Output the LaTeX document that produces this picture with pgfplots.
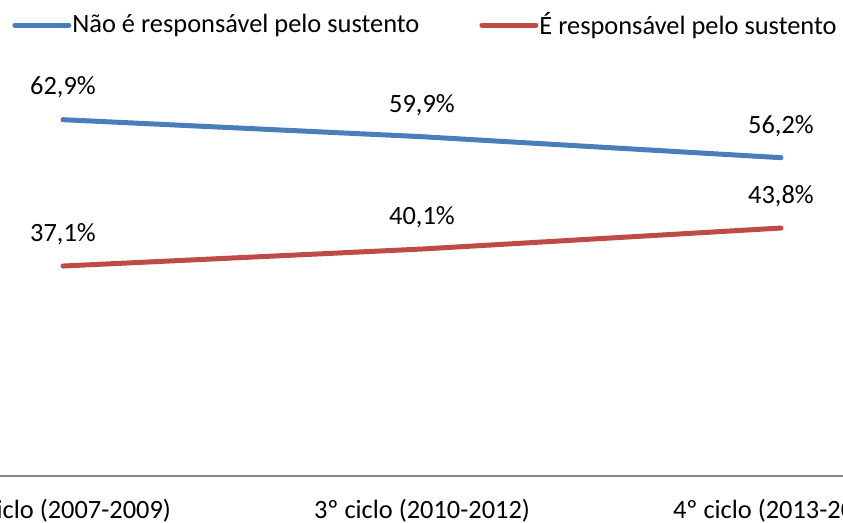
\documentclass[border=0pt]{standalone}
\usepackage{fontspec}
\setmainfont{Carlito}
\usepackage{pgfplots}
\pgfplotsset{compat=1.18}
\definecolor{azul}{HTML}{4A7EBB}
\definecolor{verm}{HTML}{BE4B48}
\definecolor{eixo}{HTML}{878787}
\newcommand{\fs}{\fontsize{13.2}{15.8}\selectfont}
\begin{document}
\fs
\begin{tikzpicture}
\path[use as bounding box] (0,-23.25pt) rectangle (421.5pt,238.25pt);
\begin{axis}[
  at={(0,0)}, anchor=south west,
  scale only axis, width=421.5pt, height=238.25pt,
  xmin=-0.1755, xmax=2.1727, ymin=0, ymax=84,
  axis y line=none, axis x line*=bottom,
  x axis line style={eixo, line width=1pt, -},
  xtick={0,1,2},
  xticklabels={2º ciclo (2007-2009),3º ciclo (2010-2012),4º ciclo (2013-2015)},
  major tick length=0pt,
  xticklabel style={anchor=base, yshift=-21pt, font=\fs},
  /pgf/number format/assume math mode=true,
  nodes near coords={\pgfmathprintnumber[fixed, fixed zerofill, precision=1, use comma]{\pgfplotspointmeta}\%},
  every node near coord/.append style={anchor=center, yshift=16pt, black, font=\fs},
  legend columns=2,
  legend style={at={(0.01423,0.9475)}, anchor=west, draw=none, fill=none, inner sep=0pt,
    font=\fs,
    nodes={inner sep=0.5pt},
    /tikz/every even column/.append style={column sep=29.5pt}},
  legend image code/.code={\draw[#1, line cap=round] (0pt,0pt) -- (27pt,0pt);},
]
\addplot[azul, line width=2.5pt, line cap=round] coordinates {(0,62.9) (1,59.9) (2,56.2)};
\addlegendentry{Não é responsável pelo sustento}
\addplot[verm, line width=2.5pt, line cap=round] coordinates {(0,37.1) (1,40.1) (2,43.8)};
\addlegendentry{É responsável pelo sustento}
\end{axis}
\end{tikzpicture}
\end{document}
